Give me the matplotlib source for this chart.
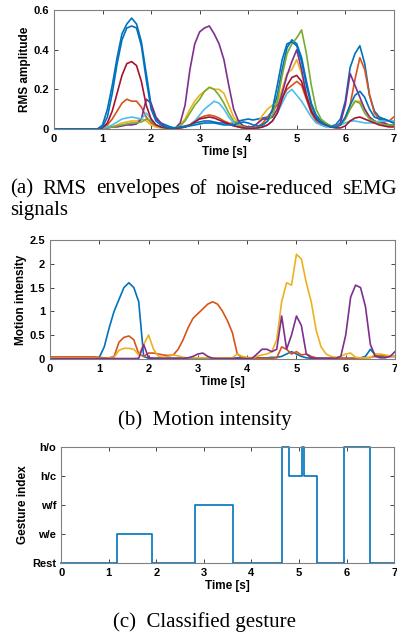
import numpy as np
import matplotlib
matplotlib.use('Agg')
import matplotlib.pyplot as plt

#-----------------DATA-----------------

# common time grid, 0.1 s steps from 0 to 7 s
t = np.round(np.arange(0, 7.05, 0.1), 2)

z10 = [0.0] * 10  # resting part 0.0 - 0.9 s

# (a) RMS envelopes, one list per channel
rms_ch1 = z10 + [0.02, 0.10, 0.22, 0.36, 0.48, 0.53, 0.56, 0.53, 0.44, 0.28,
                 0.12, 0.05, 0.03, 0.02, 0.01, 0.005, 0.01, 0.015, 0.02, 0.03,
                 0.035, 0.04, 0.04, 0.035, 0.03, 0.03, 0.025, 0.03, 0.04, 0.045,
                 0.05, 0.045, 0.05, 0.055, 0.06, 0.09, 0.17, 0.30, 0.41, 0.45,
                 0.43, 0.36, 0.24, 0.13, 0.07, 0.04, 0.025, 0.015, 0.02, 0.05,
                 0.14, 0.31, 0.38, 0.42, 0.33, 0.17, 0.09, 0.06, 0.05, 0.04, 0.03]
rms_ch2 = z10 + [0.005, 0.02, 0.05, 0.09, 0.13, 0.15, 0.14, 0.14, 0.11, 0.06,
                 0.03, 0.015, 0.01, 0.005, 0.003, 0.003, 0.005, 0.01, 0.02, 0.04,
                 0.055, 0.065, 0.07, 0.065, 0.055, 0.04, 0.03, 0.02, 0.01, 0.005,
                 0.003, 0.005, 0.01, 0.03, 0.06, 0.09, 0.12, 0.16, 0.20, 0.22,
                 0.24, 0.22, 0.15, 0.08, 0.04, 0.02, 0.015, 0.01, 0.01, 0.02,
                 0.05, 0.12, 0.25, 0.36, 0.30, 0.17, 0.08, 0.05, 0.04, 0.04, 0.06]
rms_ch3 = z10 + [0.002, 0.005, 0.01, 0.02, 0.03, 0.035, 0.04, 0.04, 0.05, 0.04,
                 0.02, 0.01, 0.005, 0.003, 0.003, 0.005, 0.02, 0.05, 0.10, 0.14,
                 0.17, 0.19, 0.21, 0.20, 0.20, 0.18, 0.12, 0.06, 0.03, 0.015,
                 0.01, 0.01, 0.03, 0.07, 0.10, 0.12, 0.13, 0.20, 0.28, 0.30,
                 0.35, 0.28, 0.18, 0.10, 0.05, 0.03, 0.02, 0.01, 0.01, 0.02,
                 0.05, 0.10, 0.14, 0.14, 0.10, 0.06, 0.04, 0.03, 0.03, 0.02, 0.02]
rms_ch4 = z10 + [0.002, 0.005, 0.01, 0.01, 0.015, 0.02, 0.02, 0.025, 0.05, 0.15,
                 0.13, 0.06, 0.03, 0.01, 0.005, 0.005, 0.03, 0.12, 0.30, 0.43,
                 0.49, 0.51, 0.52, 0.48, 0.43, 0.35, 0.22, 0.10, 0.04, 0.015,
                 0.01, 0.01, 0.03, 0.05, 0.05, 0.06, 0.10, 0.18, 0.27, 0.34,
                 0.40, 0.30, 0.17, 0.09, 0.05, 0.03, 0.02, 0.01, 0.01, 0.03,
                 0.12, 0.28, 0.22, 0.16, 0.10, 0.06, 0.04, 0.03, 0.03, 0.02, 0.02]
rms_ch5 = z10 + [0.002, 0.005, 0.01, 0.015, 0.02, 0.025, 0.03, 0.03, 0.035, 0.05,
                 0.04, 0.02, 0.01, 0.005, 0.003, 0.005, 0.015, 0.04, 0.08, 0.12,
                 0.15, 0.19, 0.21, 0.20, 0.17, 0.13, 0.08, 0.04, 0.02, 0.01,
                 0.005, 0.005, 0.01, 0.02, 0.04, 0.07, 0.14, 0.27, 0.38, 0.43,
                 0.46, 0.50, 0.38, 0.22, 0.10, 0.05, 0.03, 0.015, 0.01, 0.02,
                 0.05, 0.10, 0.14, 0.13, 0.08, 0.05, 0.04, 0.03, 0.02, 0.02, 0.02]
rms_ch6 = z10 + [0.002, 0.01, 0.02, 0.035, 0.05, 0.055, 0.06, 0.055, 0.05, 0.08,
                 0.05, 0.02, 0.01, 0.005, 0.003, 0.003, 0.005, 0.01, 0.02, 0.04,
                 0.07, 0.10, 0.12, 0.14, 0.13, 0.10, 0.06, 0.03, 0.01, 0.005,
                 0.003, 0.003, 0.005, 0.01, 0.02, 0.04, 0.08, 0.13, 0.18, 0.20,
                 0.17, 0.14, 0.10, 0.06, 0.03, 0.02, 0.01, 0.01, 0.01, 0.02,
                 0.03, 0.04, 0.04, 0.035, 0.03, 0.03, 0.03, 0.04, 0.04, 0.04, 0.04]
rms_ch7 = z10 + [0.005, 0.03, 0.09, 0.18, 0.27, 0.33, 0.34, 0.32, 0.24, 0.12,
                 0.05, 0.02, 0.01, 0.005, 0.003, 0.003, 0.005, 0.01, 0.02, 0.035,
                 0.05, 0.055, 0.06, 0.055, 0.045, 0.035, 0.025, 0.015, 0.01, 0.005,
                 0.003, 0.003, 0.005, 0.01, 0.02, 0.04, 0.08, 0.15, 0.22, 0.26,
                 0.27, 0.24, 0.16, 0.09, 0.05, 0.03, 0.02, 0.01, 0.005, 0.005,
                 0.015, 0.04, 0.055, 0.06, 0.05, 0.04, 0.03, 0.02, 0.015, 0.01, 0.01]
rms_ch8 = z10 + [0.01, 0.06, 0.18, 0.33, 0.45, 0.51, 0.52, 0.51, 0.42, 0.25,
                 0.10, 0.04, 0.02, 0.01, 0.005, 0.005, 0.01, 0.01, 0.015, 0.02,
                 0.025, 0.03, 0.03, 0.03, 0.025, 0.02, 0.02, 0.02, 0.03, 0.035,
                 0.03, 0.02, 0.015, 0.02, 0.04, 0.10, 0.22, 0.35, 0.43, 0.44,
                 0.42, 0.34, 0.22, 0.12, 0.06, 0.03, 0.02, 0.01, 0.01, 0.02,
                 0.06, 0.12, 0.17, 0.19, 0.16, 0.10, 0.06, 0.05, 0.05, 0.04, 0.03]
rms_channels = [rms_ch1, rms_ch2, rms_ch3, rms_ch4, rms_ch5, rms_ch6, rms_ch7, rms_ch8]

# (b) motion intensity, one list per gesture detector
mi_1 = [0.02] * 10 + [0.03, 0.25, 0.65, 1.0, 1.25, 1.5, 1.6, 1.5, 1.2, 0.05,
                      0.01, 0.01, 0.01, 0.01, 0.01, 0.01, 0.01, 0.01, 0.01, 0.01,
                      0.01, 0.01, 0.01, 0.01, 0.01, 0.01, 0.01, 0.01, 0.02, 0.02,
                      0.02, 0.02, 0.02, 0.02, 0.02, 0.03, 0.03, 0.05, 0.10, 0.15,
                      0.10, 0.05, 0.02, 0.01, 0.01, 0.01, 0.01, 0.01, 0.01, 0.01,
                      0.01, 0.01, 0.01, 0.02, 0.05, 0.20, 0.08, 0.05, 0.05, 0.05, 0.05]
mi_2 = [0.04] * 10 + [0.03, 0.02, 0.02, 0.05, 0.35, 0.45, 0.48, 0.40, 0.10, 0.05,
                      0.12, 0.12, 0.10, 0.08, 0.07, 0.08, 0.20, 0.40, 0.65, 0.85,
                      0.95, 1.05, 1.15, 1.20, 1.15, 1.00, 0.80, 0.55, 0.10, 0.02,
                      0.01, 0.01, 0.01, 0.01, 0.01, 0.01, 0.02, 0.25, 0.20, 0.10,
                      0.15, 0.08, 0.10, 0.05, 0.02, 0.01, 0.01, 0.01, 0.01, 0.01,
                      0.01, 0.01, 0.01, 0.01, 0.02, 0.03, 0.05, 0.07, 0.06, 0.05, 0.05]
mi_3 = [0.02] * 10 + [0.01, 0.01, 0.02, 0.03, 0.18, 0.22, 0.22, 0.20, 0.08, 0.30,
                      0.50, 0.20, 0.05, 0.03, 0.05, 0.08, 0.06, 0.03, 0.02, 0.02,
                      0.02, 0.02, 0.02, 0.02, 0.02, 0.02, 0.02, 0.02, 0.10, 0.05,
                      0.03, 0.02, 0.05, 0.08, 0.10, 0.15, 0.40, 1.20, 1.60, 1.55,
                      2.20, 2.10, 1.60, 1.20, 0.60, 0.25, 0.10, 0.05, 0.03, 0.05,
                      0.10, 0.12, 0.03, 0.02, 0.02, 0.02, 0.10, 0.10, 0.08, 0.06, 0.05]
mi_4 = [0.005] * 10 + [0.005, 0.005, 0.005, 0.005, 0.005, 0.005, 0.005, 0.005, 0.01, 0.30,
                       0.02, 0.01, 0.01, 0.01, 0.01, 0.01, 0.01, 0.01, 0.02, 0.05,
                       0.10, 0.12, 0.05, 0.01, 0.005, 0.005, 0.005, 0.005, 0.005, 0.005,
                       0.005, 0.01, 0.10, 0.20, 0.20, 0.15, 0.20, 0.90, 0.20, 0.50,
                       0.90, 0.70, 0.10, 0.02, 0.01, 0.01, 0.01, 0.01, 0.01, 0.05,
                       0.50, 1.30, 1.55, 1.50, 1.10, 0.30, 0.05, 0.02, 0.02, 0.05, 0.15]
mi_series = [mi_1, mi_2, mi_3, mi_4]

# (c) classified gesture: switching times and the class held from each time on
gest_t = [0.0, 1.18, 1.90, 2.82, 3.62, 4.65, 4.78, 5.07, 5.10, 5.38, 5.95, 6.50, 7.0]
gest_idx = [0, 1, 0, 2, 0, 4, 3, 4, 3, 0, 4, 0, 0]
gest_labels = ['Rest', 'w/e', 'w/f', 'h/c', 'h/o']

# MATLAB default line colours
colors = ['#0072BD', '#D95319', '#EDB120', '#7E2F8E', '#77AC30', '#4DBEEE', '#A2142F']

#-----------------GRAPH FUNCTIONS-----------------

plt.rcParams['font.family'] = ['Liberation Sans', 'DejaVu Sans']
plt.rcParams['font.weight'] = 'bold'
plt.rcParams['font.size'] = 8

fig = plt.figure(figsize=(3.97, 6.35), dpi=100)


#shared MATLAB-like axes look
def style_axes(ax):
    ax.set_xlim(0, 7)
    ax.set_xticks(range(8))
    ax.tick_params(direction='in', top=True, right=True, length=3, width=0.6,
                   color='#262626', labelsize=8, pad=3.5)
    for s in ax.spines.values():
        s.set_color('#808080')
        s.set_linewidth(0.8)
    ax.set_xlabel('Time [s]', fontweight='bold', fontsize=8.5, labelpad=1.5)


#(a) RMS envelopes
ax1 = fig.add_axes([0.136, 0.797, 0.856, 0.187])
for i, ch in enumerate(rms_channels):
    ax1.plot(t, ch, color=colors[i % 7], lw=1.2)
style_axes(ax1)
ax1.set_ylim(0, 0.6)
ax1.set_yticks([0, 0.2, 0.4, 0.6])
ax1.set_yticklabels(['0', '0.2', '0.4', '0.6'])
ax1.set_ylabel('RMS amplitude', fontweight='bold', fontsize=8.5, labelpad=2)

#(b) motion intensity
ax2 = fig.add_axes([0.126, 0.435, 0.869, 0.187])
for i, s in enumerate(mi_series):
    ax2.plot(t, s, color=colors[i], lw=1.2)
style_axes(ax2)
ax2.set_ylim(0, 2.5)
ax2.set_yticks([0, 0.5, 1, 1.5, 2, 2.5])
ax2.set_yticklabels(['0', '0.5', '1', '1.5', '2', '2.5'])
ax2.set_ylabel('Motion intensity', fontweight='bold', fontsize=8.5, labelpad=2)

#(c) classified gesture
ax3 = fig.add_axes([0.154, 0.113, 0.839, 0.183])
ax3.step(gest_t, gest_idx, where='post', color=colors[0], lw=1.2, clip_on=False)
style_axes(ax3)
ax3.set_ylim(0, 4)
ax3.set_yticks(range(5))
ax3.set_yticklabels(gest_labels)
ax3.set_ylabel('Gesture index', fontweight='bold', fontsize=8.5, labelpad=2)

#captions in a serif font
cap = dict(family=['Liberation Serif', 'DejaVu Serif'], fontweight='normal', fontsize=15)

# first caption line is justified to the full column width
words = ['(a)', 'RMS', 'envelopes', 'of', 'noise-reduced', 'sEMG']
txts = [fig.text(0, 1 - 189 / 635, w, va='center', ha='left', **cap) for w in words]
fig.canvas.draw()
r = fig.canvas.get_renderer()
widths = [tx.get_window_extent(r).width for tx in txts]
x0, x1 = 10, 397
gap = (x1 - x0 - sum(widths)) / (len(words) - 1)
x = x0
for tx, w in zip(txts, widths):
    tx.set_x(x / 397)
    x += w + gap
fig.text(10 / 397, 1 - 211 / 635, 'signals', va='center', ha='left', **cap)

fig.text(0.515, 1 - 420 / 635, '(b)  Motion intensity', va='center', ha='center', **cap)
fig.text(0.515, 1 - 622 / 635, '(c)  Classified gesture', va='center', ha='center', **cap)

fig.savefig('out.png', dpi=100)
